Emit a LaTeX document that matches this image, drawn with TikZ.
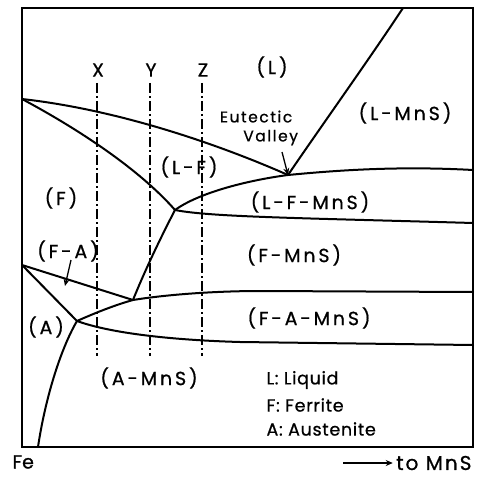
\documentclass[tikz,border=0pt]{standalone}
\usepackage{fontspec}
\setmainfont{Poppins}[FakeBold=0.8]
\newfontfamily\widefont{Poppins}[LetterSpace=15, FakeBold=0.8]
\newfontfamily\notefont{Poppins}[LetterSpace=10, FakeBold=0.8]
\newfontfamily\keyfont{Poppins}[LetterSpace=4, FakeBold=0.8]
\usetikzlibrary{arrows.meta,positioning,calc}

\tikzset{
  phase/.style={font=\widefont\fontsize{19}{21}\selectfont},
  legend/.style={font=\keyfont\fontsize{17.5}{20}\selectfont, anchor=west},
  section/.style={line width=1.4pt, dash pattern=on 10pt off 3pt on 2pt off 3pt},
  pointer/.style={-{Stealth[length=7pt,width=6pt]}, line width=1.3pt}
}

\begin{document}
\begin{tikzpicture}[x=1pt, y=-1pt]
  \useasboundingbox (0,0) rectangle (478,481);

  % key points of the diagram
  \coordinate (top)  at (22,99);
  \coordinate (eut)  at (288,175);
  \coordinate (tri)  at (175,210);
  \coordinate (fa)   at (133,300);
  \coordinate (left) at (22,265);
  \coordinate (aus)  at (77,321);

  \draw[line width=2pt] (22,8) rectangle (473,447);

  \begin{scope}[line width=2pt, line cap=round]
    \draw (top) .. controls (120,110) and (220,145) .. (eut);
    \draw (eut) .. controls (320,128) and (370,58) .. (403,8);
    \draw (top) .. controls (80,130) and (140,170) .. (tri);
    \draw (tri) .. controls (200,192) and (250,180) .. (eut)
                .. controls (340,170) and (400,166) .. (473,170);
    \draw (tri) .. controls (210,217) and (300,218) .. (473,223);
    \draw (tri) .. controls (162,235) and (145,270) .. (fa);
    \draw (left) -- (fa);
    \draw (fa) .. controls (170,294) and (220,291) .. (260,291) -- (473,292);
    \draw (left) -- (aus);
    \draw (aus) .. controls (95,313) and (115,305) .. (fa);
    \draw (aus) .. controls (110,333) and (170,340) .. (240,342) -- (473,345);
    \draw (aus) .. controls (60,350) and (45,400) .. (38,447);
  \end{scope}

  % sections X, Y, Z
  \foreach \name/\xpos in {X/97, Y/150, Z/202} {
    \node[phase] (lab\name) at (\xpos+1,70) {\name};
    \draw[section] (\xpos,83) -- (\xpos,356);
  }

  % phase fields
  \node[phase] (liq)    at (272,67)  {(L)};
  \node[phase] (lmns)   at (405,113) {(L-MnS)};
  \node[phase] (lf)     at (189,167) {(L-F)};
  \node[phase] (fer)    at (61,198)  {(F)};
  \node[phase] (lfmns)  at (310,202) {(L-F-MnS)};
  \node[phase] (fmns)   at (294,255) {(F-MnS)};
  \node[phase] (fa lab) at (68,251)  {(F-A)};
  \node[phase] (aust)   at (46,327)  {(A)};
  \node[phase] (famns)  at (309,318) {(F-A-MnS)};
  \node[phase] (amns)   at (149,378) {(A-MnS)};

  \node[font=\notefont\fontsize{15.5}{19}\selectfont, align=left] (valley) at (259,128)
    {Eutectic\\\hspace*{1.5em}Valley};
  \draw[pointer] (282,152) -- (eut);
  \draw[pointer] (71,260) -- (65,286);

  % legend
  \node[legend] (leg l) at (263,380) {L: Liquid};
  \node[legend] (leg f) at (263,405) {F: Ferrite};
  \node[legend] (leg a) at (263,429) {A: Austenite};

  \node[font=\fontsize{19}{21}\selectfont, anchor=west] (fe) at (9,462) {Fe};
  \node[font=\notefont\fontsize{20}{22}\selectfont, anchor=east] (mns) at (475,463) {to MnS};
  \draw[pointer] (343,463) -- (mns.west);
\end{tikzpicture}
\end{document}
